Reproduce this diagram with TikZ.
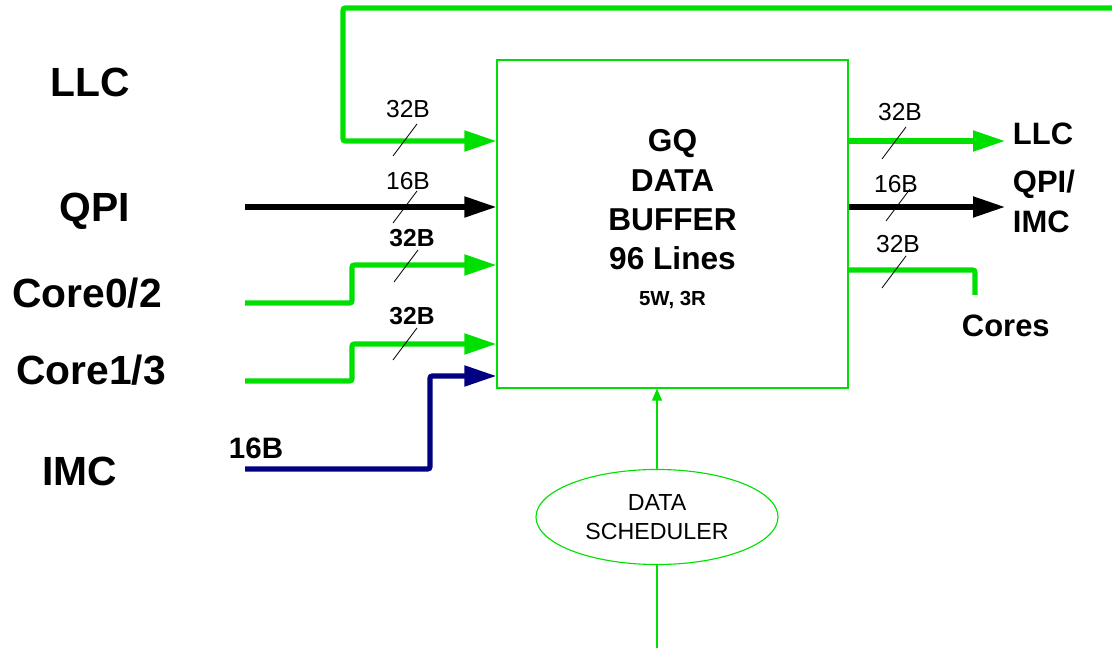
\documentclass[tikz,border=0pt]{standalone}
\usepackage{fontspec}
\setmainfont{Liberation Sans}
\usetikzlibrary{arrows.meta, shapes.geometric, positioning}
\definecolor{cBus}{HTML}{00E000}
\definecolor{cNavy}{HTML}{000080}
\tikzset{
  wire/.style={line width=3.6pt, #1, rounded corners=1.5pt},
  wire/.default=cBus,
  bus/.style={wire=#1, -{Triangle[length=0.8cm, width=0.5cm]}},
  bus/.default=cBus,
  gqbox/.style={rectangle, draw=cBus, line width=0.8pt,
    minimum width=8.775cm, minimum height=8.2cm},
  gqtext/.style={align=center, inner sep=0pt,
    font=\fontsize{22.5}{28}\selectfont\bfseries},
  schedbox/.style={ellipse, draw=cBus, line width=0.8pt,
    minimum width=6.05cm, minimum height=2.375cm, align=center,
    font=\fontsize{16.5}{21}\selectfont, inner sep=0pt},
  thin/.style={draw=cBus, line width=0.8pt},
  side/.style={font=\fontsize{29}{34}\selectfont\bfseries, anchor=base},
  outlbl/.style={font=\fontsize{22}{26}\selectfont\bfseries, anchor=base west},
  bw/.style={font=\fontsize{17.5}{20}\selectfont, anchor=base, inner sep=0pt},
  bwb/.style={bw, font=\fontsize{17.5}{20}\selectfont\bfseries},
  busmark/.pic={\draw[line width=0.6pt] (-12,16) -- (12,-16);},
}

\begin{document}
\begin{tikzpicture}[x=0.025cm, y=-0.025cm]
  \useasboundingbox (0,0) rectangle (1112,648);

  % Buffer and scheduler
  \node[gqbox] (gq) at (672.5,224) {};
  \node[gqtext] (gqt) at (672.5,219) {GQ\\DATA\\BUFFER\\96 Lines\\[-3pt]
    {\fontsize{14.5}{16}\selectfont 5W, 3R}};
  \node[schedbox] (sched) at (657,517) {DATA\\SCHEDULER};

  % Source labels
  \node[side] (llc) at (90,97) {LLC};
  \node[side] (qpi) at (95,222) {QPI};
  \node[side] (core02) at (87,308) {Core0/2};
  \node[side] (core13) at (91,385) {Core1/3};
  \node[side] (imc) at (80,486) {IMC};
  \node[side, font=\fontsize{21}{24}\selectfont\bfseries] (imcw) at (256,458) {16B};

  % Sink labels
  \node[outlbl] (llcdst) at (1008,145) {LLC};
  \node[outlbl] (qpidst) at (1008,193) {QPI/};
  \node[outlbl] (imcdst) at (1008,233) {IMC};
  \node[outlbl] (coredst) at (957,337) {Cores};

  % Free ends
  \coordinate (llcFeed) at (1112,8);
  \coordinate (qpiFeed) at (245,207);
  \coordinate (c02Feed) at (245,303);
  \coordinate (c13Feed) at (245,381);
  \coordinate (imcFeed) at (245,469);
  \coordinate (llcOut) at (1005,141);
  \coordinate (qpiOut) at (1005,207);
  \coordinate (coreOut) at (975,295);
  \coordinate (schedFeed) at (657,648);

  % Inputs
  \draw[bus] (llcFeed) -- (343,8) -- (343,141) -- (gq.west |- 0,141);
  \draw[bus=black] (qpiFeed) -- (gq.west |- 0,207);
  \draw[bus] (c02Feed) -- (352,303) -- (352,265) -- (gq.west |- 0,265);
  \draw[bus] (c13Feed) -- (352,381) -- (352,344) -- (gq.west |- 0,344);
  \draw[bus=cNavy] (imcFeed) -- (430,469) -- (430,376) -- (gq.west |- 0,376);

  % Outputs
  \draw[bus] (gq.east |- 0,141) -- (llcOut);
  \draw[bus=black] (gq.east |- 0,207) -- (qpiOut);
  \draw[wire] (gq.east |- 0,270) -| (coreOut);

  % Scheduler
  \draw[thin, -{Triangle[length=0.3cm, width=0.25cm]}] (sched.north) -- (sched.north |- gq.south);
  \draw[thin] (schedFeed) -- (sched.south);

  % Bus widths
  \pic at (405,140) {busmark};
  \pic at (405,207) {busmark};
  \pic at (406,266) {busmark};
  \pic at (405,344) {busmark};
  \pic at (894,143) {busmark};
  \pic at (898,205) {busmark};
  \pic at (894,272) {busmark};
  \node[bw] (w1) at (408,118) {32B};
  \node[bw] (w2) at (408,190) {16B};
  \node[bwb] (w3) at (412,247) {32B};
  \node[bwb] (w4) at (412,325) {32B};
  \node[bw] (w5) at (900,121) {32B};
  \node[bw] (w6) at (896,193) {16B};
  \node[bw] (w7) at (898,253) {32B};

\end{tikzpicture}
\end{document}
